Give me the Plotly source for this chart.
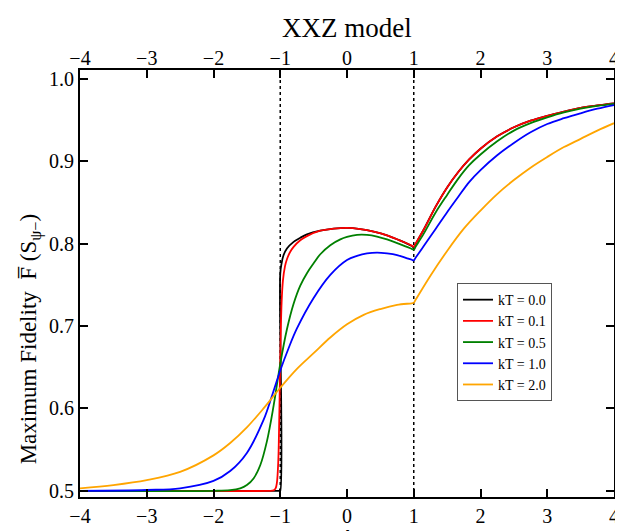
import plotly.graph_objects as go

# ---- data ----
delta_kt00 = [-4.0, -1.01, -1.0, -1.0, -0.98, -0.95, -0.9, -0.8, -0.7, -0.6, -0.4, -0.2, 0.0, 0.2, 0.4, 0.6, 0.8, 0.97, 1.0,
              1.03, 1.15, 1.33, 1.5, 1.67, 1.83, 2.0, 2.25, 2.5, 2.75, 3.0, 3.25, 3.5, 3.75, 4.0]
fid_kt00 = [0.5, 0.5, 0.5, 0.763, 0.776, 0.786, 0.794, 0.802, 0.807, 0.811, 0.8155, 0.818, 0.819, 0.8175, 0.8145, 0.810, 0.8035, 0.797, 0.7955,
            0.7997, 0.817, 0.845, 0.868, 0.887, 0.902, 0.915, 0.930, 0.941, 0.949, 0.955, 0.960, 0.9645, 0.9675, 0.970]

delta_kt01 = [-4.0, -1.2, -1.1, -1.07, -1.05, -1.03, -1.02, -1.01, -1.0, -0.99, -0.98, -0.96, -0.93, -0.9, -0.85, -0.8, -0.7, -0.6,
              -0.4, -0.2, 0.0, 0.2, 0.4, 0.6, 0.8, 0.97, 1.0,
              1.03, 1.15, 1.33, 1.5, 1.67, 1.83, 2.0, 2.25, 2.5, 2.75, 3.0, 3.25, 3.5, 3.75, 4.0]
fid_kt01 = [0.5, 0.5, 0.5005, 0.503, 0.510, 0.535, 0.565, 0.610, 0.660, 0.700, 0.728, 0.755, 0.772, 0.781, 0.790, 0.796, 0.804, 0.809,
            0.8155, 0.818, 0.819, 0.8175, 0.8145, 0.810, 0.8035, 0.7975, 0.796,
            0.8002, 0.817, 0.845, 0.868, 0.887, 0.902, 0.915, 0.930, 0.941, 0.949, 0.955, 0.960, 0.9645, 0.9675, 0.970]

delta_kt05 = [-4.0, -2.0, -1.75, -1.6, -1.5, -1.4, -1.3, -1.2, -1.1, -1.0, -0.9, -0.8, -0.7, -0.6, -0.5, -0.4, -0.25, -0.1,
              0.0, 0.15, 0.3, 0.45, 0.6, 0.8, 0.97, 1.0,
              1.03, 1.15, 1.33, 1.5, 1.67, 1.83, 2.0, 2.25, 2.5, 2.75, 3.0, 3.25, 3.5, 3.75, 4.0]
fid_kt05 = [0.5, 0.5, 0.5008, 0.503, 0.507, 0.515, 0.531, 0.560, 0.603, 0.654, 0.696, 0.727, 0.749, 0.764, 0.776, 0.787, 0.798, 0.805,
            0.808, 0.8105, 0.8105, 0.8085, 0.805, 0.799, 0.7935, 0.7925,
            0.7964, 0.812, 0.838, 0.859, 0.879, 0.895, 0.908, 0.924, 0.937, 0.946, 0.953, 0.959, 0.9635, 0.967, 0.9695]

delta_kt10 = [-4.0, -3.0, -2.5, -2.0, -1.75, -1.5, -1.25, -1.125, -1.0, -0.875, -0.75, -0.5, -0.25,
              0.0, 0.15, 0.3, 0.45, 0.6, 0.75, 0.9, 0.97, 1.0,
              1.03, 1.15, 1.33, 1.5, 1.67, 1.83, 2.0, 2.25, 2.5, 2.75, 3.0, 3.25, 3.5, 3.75, 4.0]
fid_kt10 = [0.5, 0.501, 0.503, 0.512, 0.524, 0.546, 0.586, 0.615, 0.646, 0.673, 0.697, 0.734, 0.762,
            0.780, 0.785, 0.788, 0.789, 0.788, 0.786, 0.782, 0.7803, 0.7795,
            0.783, 0.797, 0.818, 0.838, 0.857, 0.8745, 0.889, 0.907, 0.922, 0.935, 0.945, 0.952, 0.958, 0.9635, 0.968]

delta_kt20 = [-4.0, -3.5, -3.0, -2.5, -2.0, -1.75, -1.5, -1.25, -1.0, -0.75, -0.5, -0.25, 0.0, 0.25, 0.5, 0.75, 0.97, 1.0,
              1.03, 1.25, 1.5, 1.75, 2.0, 2.25, 2.5, 2.75, 3.0, 3.25, 3.5, 3.75, 4.0]
fid_kt20 = [0.503, 0.507, 0.513, 0.523, 0.543, 0.558, 0.577, 0.600, 0.625, 0.648, 0.667, 0.686, 0.702, 0.7135, 0.7205, 0.7255, 0.7275, 0.728,
            0.732, 0.761, 0.791, 0.818, 0.840, 0.860, 0.877, 0.892, 0.905, 0.917, 0.927, 0.937, 0.946]

series_names = ["kT = 0.0", "kT = 0.1", "kT = 0.5", "kT = 1.0", "kT = 2.0"]
series_x = [delta_kt00, delta_kt01, delta_kt05, delta_kt10, delta_kt20]
series_y = [fid_kt00, fid_kt01, fid_kt05, fid_kt10, fid_kt20]
series_colors = ["#000000", "#ff0000", "#008000", "#0000ff", "#ffa500"]

x_ticks = [-4, -3, -2, -1, 0, 1, 2, 3, 4]
y_ticks = [0.5, 0.6, 0.7, 0.8, 0.9, 1.0]
y_ticktext = ["0.5", "0.6", "0.7", "0.8", "0.9", "1.0"]
critical_points = [-1, 1]

FONT = "Liberation Serif, Times New Roman, serif"
Y_RANGE = [0.4925, 1.0105]

fig = go.Figure()

for cx in critical_points:
    fig.add_trace(go.Scatter(x=[cx, cx], y=Y_RANGE, mode="lines", showlegend=False,
                             line=dict(color="black", width=1.5, dash="dot"), hoverinfo="skip"))

for name, xs, ys, col in zip(series_names, series_x, series_y, series_colors):
    fig.add_trace(go.Scatter(x=xs, y=ys, mode="lines", name=name,
                             line=dict(color=col, width=1.8, shape="spline", smoothing=1.0)))

# invisible trace to activate the top axis
fig.add_trace(go.Scatter(x=[-4, 4], y=[0.5, 0.5], xaxis="x2", mode="lines",
                         line=dict(width=0), showlegend=False, hoverinfo="skip", opacity=0))

axis_common = dict(showgrid=False, zeroline=False, linecolor="black", linewidth=2,
                   ticks="inside", ticklen=8, tickwidth=1.5, tickcolor="black",
                   tickfont=dict(family=FONT, size=20, color="black"))

fig.update_layout(
    width=623, height=531,
    margin=dict(l=72, r=14, t=62, b=40),
    paper_bgcolor="white", plot_bgcolor="white",
    font=dict(family=FONT, color="black"),
    xaxis=dict(range=[-4, 4], tickvals=x_ticks, mirror="ticks", **axis_common),
    xaxis2=dict(range=[-4, 4], tickvals=x_ticks, overlaying="x", side="top",
                showgrid=False, zeroline=False, showline=False, ticks="",
                tickfont=dict(family=FONT, size=20, color="black")),
    yaxis=dict(range=Y_RANGE, tickvals=y_ticks, ticktext=y_ticktext, mirror="ticks", **axis_common),
    legend=dict(x=0.706, y=0.501, xanchor="left", yanchor="top",
                bgcolor="white", bordercolor="#555555", borderwidth=1,
                font=dict(family=FONT, size=14, color="black"),
                itemwidth=30, tracegroupgap=0),
    showlegend=True,
    annotations=[
        dict(text="XXZ model", xref="paper", yref="paper", x=0.5, y=1.098,
             xanchor="center", yanchor="middle", showarrow=False,
             font=dict(family=FONT, size=27, color="black")),
        dict(text="Maximum Fidelity  F\u0305 (S<sub>\u03c8\u2212</sub>)", xref="paper", yref="paper",
             x=-0.093, y=0.37, textangle=-90, xanchor="center", yanchor="middle",
             showarrow=False, font=dict(family=FONT, size=23, color="black")),
        dict(text="\u0394", xref="paper", yref="paper", x=0.5, y=-0.058,
             xanchor="center", yanchor="top", showarrow=False,
             font=dict(family=FONT, size=24, color="black")),
    ],
)

fig.write_html("out.html")
